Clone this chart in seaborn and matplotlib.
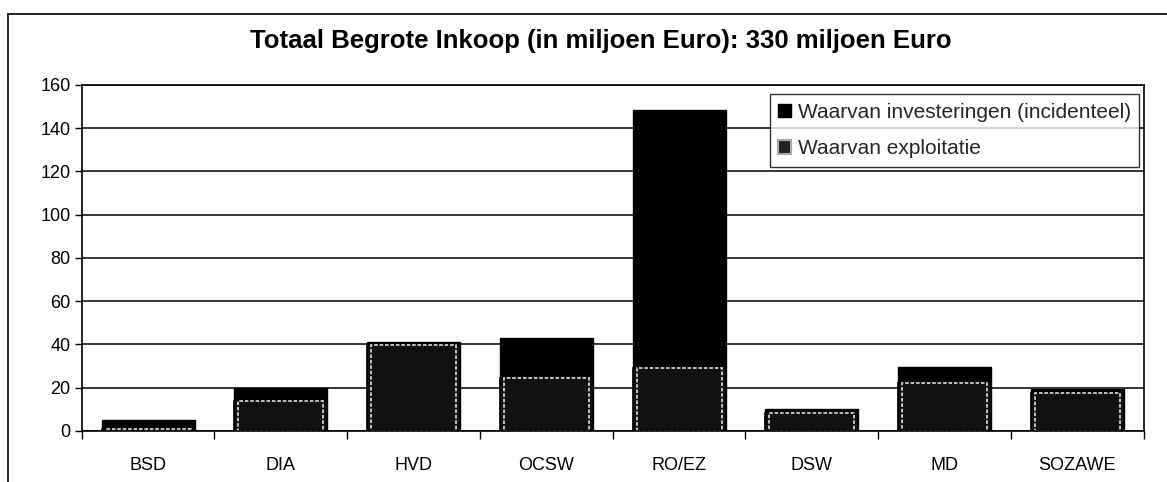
import numpy as np
import pandas as pd
import matplotlib.pyplot as plt
import seaborn as sns
from matplotlib.patches import Patch
from matplotlib.lines import Line2D

sns.set_theme(style='white')
plt.rcParams['font.family'] = ['Liberation Sans', 'DejaVu Sans']

# Data (miljoen Euro)
afdelingen = ['BSD', 'DIA', 'HVD', 'OCSW', 'RO/EZ', 'DSW', 'MD', 'SOZAWE']
exploitatie = [1.0, 14.0, 39.5, 24.5, 29.0, 8.3, 22.3, 17.7]
investeringen = [4.0, 6.0, 1.5, 18.5, 119.5, 1.7, 7.2, 1.6]

df = pd.DataFrame({'afdeling': afdelingen,
                   'exploitatie': exploitatie,
                   'investeringen': investeringen})
df['totaal'] = df['exploitatie'] + df['investeringen']

fig = plt.figure(figsize=(11.67, 4.82), dpi=100)
ax = fig.add_axes([0.070, 0.106, 0.910, 0.718])

# stacked: total (black) first, exploitatie drawn over the bottom part
sns.barplot(data=df, x='afdeling', y='totaal', ax=ax, color='black',
            width=0.7, saturation=1, edgecolor='black', linewidth=1)
sns.barplot(data=df, x='afdeling', y='exploitatie', ax=ax, color='#111111',
            width=0.7, saturation=1, edgecolor='black', linewidth=1.2)
# dotted light inner outline, like the scanned fill pattern
sns.barplot(data=df, x='afdeling', y='exploitatie', ax=ax, fill=False,
            width=0.64, edgecolor='#d0d0d0', linewidth=1.3, linestyle=(0, (2, 1)))

ax.set_ylim(0, 160)
ax.set_xlim(-0.5, len(afdelingen) - 0.5)
ax.set_yticks(np.arange(0, 161, 20))
ax.yaxis.grid(True, color='black', linewidth=1.1)
ax.set_axisbelow(True)
for s in ax.spines.values():
    s.set_color('black')
    s.set_linewidth(1.2)
ax.tick_params(axis='y', length=5, width=1, color='black', direction='out',
               left=True, labelsize=13, pad=3)
ax.tick_params(axis='x', length=0, labelsize=13, pad=19)
# category separators on the x axis
ax.set_xticks(np.arange(len(afdelingen) + 1) - 0.5, minor=True)
ax.tick_params(axis='x', which='minor', length=6, width=1, color='black',
               direction='out', bottom=True)
ax.set_xlabel('')
ax.set_ylabel('')
for lbl in ax.get_yticklabels() + ax.get_xticklabels():
    lbl.set_color('black')

fig.suptitle('Totaal Begrote Inkoop (in miljoen Euro): 330 miljoen Euro',
             x=0.515, y=0.94, fontsize=18.5, fontweight='bold', color='black')

handles = [Patch(facecolor='black', edgecolor='black'),
           Patch(facecolor='#222222', edgecolor='#aaaaaa', linewidth=1.5)]
leg = ax.legend(handles, ['Waarvan investeringen (incidenteel)', 'Waarvan exploitatie'],
                loc='upper right', bbox_to_anchor=(1.0, 0.985), fontsize=15,
                frameon=True, fancybox=False, edgecolor='black',
                handlelength=0.6, handleheight=0.6, handletextpad=0.35,
                labelspacing=0.85, borderpad=0.4, borderaxespad=0.2)
leg.get_frame().set_linewidth(1.0)

# outer chart frame (scanned page border)
fig.add_artist(Line2D([0.007, 1.0], [0.971, 0.971], color='black', lw=1.2))
fig.add_artist(Line2D([0.007, 0.007], [0.0, 0.971], color='black', lw=1.2))

fig.savefig('out.png', dpi=100, facecolor='white')
